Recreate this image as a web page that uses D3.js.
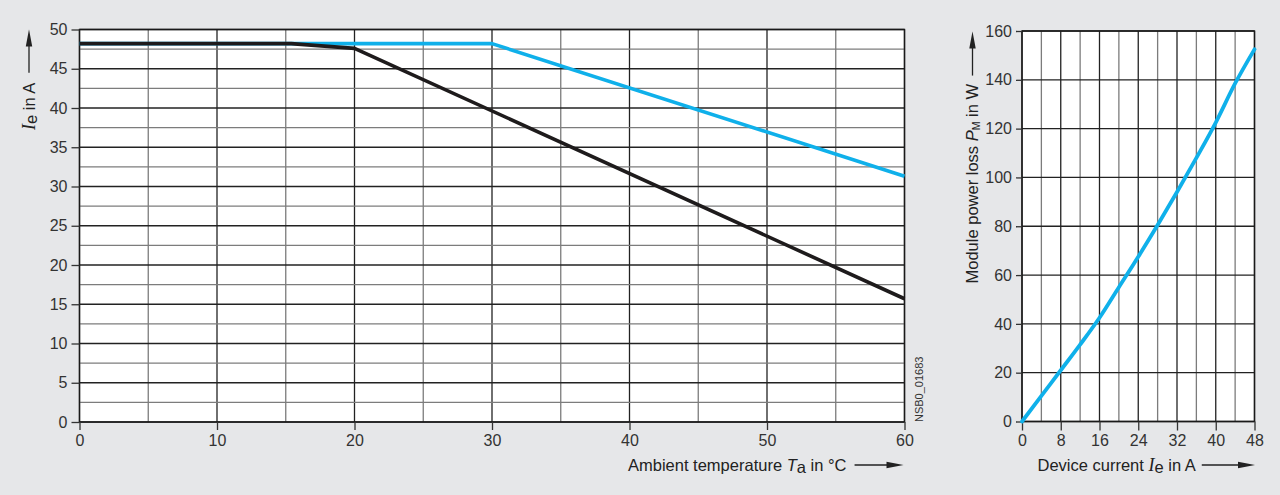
<!DOCTYPE html>
<html><head><meta charset="utf-8">
<script src="https://cdn.jsdelivr.net/npm/d3@7"></script>
<style>
body{margin:0;background:#e6e7e9;}
text{font-family:"Liberation Sans",Arial,sans-serif;}
</style>
</head><body><svg id="c" width="1280" height="495"></svg>
<script>
// ---- data ----
const blackTemp = [0, 15.4, 20, 60];
const blackIe   = [48.2, 48.2, 47.6, 15.7];
const blueTemp  = [0, 30, 60];
const blueIe    = [48.2, 48.2, 31.3];
const deviceCurrent = [0, 4, 8, 12, 16, 20, 24, 28, 32, 36, 40, 44, 48];
const powerLoss     = [0, 10.5, 21, 31.5, 42.5, 55, 67.5, 80.5, 94, 108, 122.5, 138.5, 152.5];
const leftXTicks  = [0, 10, 20, 30, 40, 50, 60];
const leftYTicks  = [0, 5, 10, 15, 20, 25, 30, 35, 40, 45, 50];
const rightXTicks = [0, 8, 16, 24, 32, 40, 48];
const rightYTicks = [0, 20, 40, 60, 80, 100, 120, 140, 160];
const leftXGrid  = d3.range(0, 60.01, 5);
const leftYGrid  = d3.range(0, 50.01, 2.5);
const rightXGrid = d3.range(0, 48.01, 4);
const rightYGrid = d3.range(0, 160.01, 20);
const figureCode = "NSB0_01683";

const svg = d3.select("#c");
svg.append("rect").attr("width",1280).attr("height",495).attr("fill","#e6e7e9");

const xL = d3.scaleLinear().domain([0,60]).range([79.5,904.5]);
const yL = d3.scaleLinear().domain([0,50]).range([422,29.5]);
const xR = d3.scaleLinear().domain([0,48]).range([1022,1254.5]);
const yR = d3.scaleLinear().domain([0,160]).range([421.5,31]);

const DARK = "#222", GRAY = "#7c7c7c";

function panel(x, y, xGrid, yGrid, xTicks, yTicks) {
  const g = svg.append("g");
  g.append("rect").attr("x",x.range()[0]).attr("y",y.range()[1])
    .attr("width",x.range()[1]-x.range()[0]).attr("height",y.range()[0]-y.range()[1])
    .attr("fill","#fff");
  g.selectAll("line.v").data(xGrid).enter().append("line")
    .attr("x1",d=>x(d)).attr("x2",d=>x(d)).attr("y1",y.range()[0]).attr("y2",y.range()[1])
    .attr("stroke",d=>xTicks.includes(d)?DARK:GRAY).attr("stroke-width",1.3);
  g.selectAll("line.h").data(yGrid).enter().append("line")
    .attr("y1",d=>y(d)).attr("y2",d=>y(d)).attr("x1",x.range()[0]).attr("x2",x.range()[1])
    .attr("stroke",d=>yTicks.includes(d)?DARK:GRAY).attr("stroke-width",1.3);
  g.append("rect").attr("x",x.range()[0]).attr("y",y.range()[1])
    .attr("width",x.range()[1]-x.range()[0]).attr("height",y.range()[0]-y.range()[1])
    .attr("fill","none").attr("stroke","#1a1a1a").attr("stroke-width",1.4);
  return g;
}

panel(xL, yL, leftXGrid, leftYGrid, leftXTicks, leftYTicks);
panel(xR, yR, rightXGrid, rightYGrid, rightXTicks, rightYTicks);

function styleAxis(g){
  g.select(".domain").remove();
  g.selectAll(".tick line").attr("stroke","#333").attr("stroke-width",1.3);
  g.selectAll(".tick text").attr("fill","#333").style("font-size","16px")
    .style("font-family","'Liberation Sans',Arial,sans-serif");
}
svg.append("g").attr("transform",`translate(${xL.range()[0]},0)`)
  .call(d3.axisLeft(yL).tickValues(leftYTicks).tickSize(8).tickPadding(4)).call(styleAxis);
svg.append("g").attr("transform",`translate(0,${yL.range()[0]})`)
  .call(d3.axisBottom(xL).tickValues(leftXTicks).tickSize(8).tickPadding(5)).call(styleAxis);
svg.append("g").attr("transform",`translate(${xR.range()[0]},0)`)
  .call(d3.axisLeft(yR).tickValues(rightYTicks).tickSize(6).tickPadding(4)).call(styleAxis);
svg.append("g").attr("transform",`translate(0,${yR.range()[0]})`)
  .call(d3.axisBottom(xR).tickValues(rightXTicks).tickSize(9).tickPadding(4)).call(styleAxis);

// curves
const lineL = d3.line().x(d=>xL(d[0])).y(d=>yL(d[1]));
svg.append("path").attr("d", lineL(d3.zip(blueTemp, blueIe)))
  .attr("fill","none").attr("stroke","#0fb0ea").attr("stroke-width",3.6).attr("stroke-linejoin","round");
svg.append("path").attr("d", lineL(d3.zip(blackTemp, blackIe)))
  .attr("fill","none").attr("stroke","#1e1b1c").attr("stroke-width",3.6).attr("stroke-linejoin","round");
const lineR = d3.line().x(d=>xR(d[0])).y(d=>yR(d[1])).curve(d3.curveMonotoneX);
svg.append("path").attr("d", lineR(d3.zip(deviceCurrent, powerLoss)))
  .attr("fill","none").attr("stroke","#0fb0ea").attr("stroke-width",3.8).attr("stroke-linecap","round");

// arrows
function arrowH(x1, x2, y) {
  svg.append("line").attr("x1",x1).attr("x2",x2-14).attr("y1",y).attr("y2",y)
    .attr("stroke","#222").attr("stroke-width",1.3);
  svg.append("path").attr("d",`M${x2},${y} L${x2-17},${y-3.2} L${x2-17},${y+3.2} Z`).attr("fill","#222");
}
function arrowV(x, y1, y2) { // y2 = tip (top)
  svg.append("line").attr("x1",x).attr("x2",x).attr("y1",y1).attr("y2",y2+14)
    .attr("stroke","#222").attr("stroke-width",1.3);
  svg.append("path").attr("d",`M${x},${y2} L${x-3.2},${y2+17} L${x+3.2},${y2+17} Z`).attr("fill","#222");
}
const FS = "16.5px";

// bottom-left title
const t1 = svg.append("text").attr("x",628).attr("y",471).attr("fill","#222").style("font-size",FS);
t1.append("tspan").text("Ambient temperature ");
t1.append("tspan").text("T").style("font-style","italic");
t1.append("tspan").text("a").attr("dy",2);
t1.append("tspan").text(" in °C").attr("dy",-2);
arrowH(t1.node().getBBox().x + t1.node().getBBox().width + 8, 903.5, 465);

// bottom-right title
const t2 = svg.append("text").attr("x",1037.5).attr("y",471).attr("fill","#222").style("font-size",FS);
t2.append("tspan").text("Device current  ");
t2.append("tspan").text("I").style("font-family","'Liberation Serif',serif").style("font-style","italic").style("font-size","18px");
t2.append("tspan").text("e").attr("dy",2);
t2.append("tspan").text(" in A").attr("dy",-2);
arrowH(t2.node().getBBox().x + t2.node().getBBox().width + 6, 1255, 465);

// left y title (rotated)
const t3 = svg.append("text").attr("transform","translate(34.5,130) rotate(-90)").attr("fill","#222").style("font-size",FS);
t3.append("tspan").text("I").style("font-family","'Liberation Serif',serif").style("font-style","italic").style("font-size","18px");
t3.append("tspan").text("e").attr("dy",2);
t3.append("tspan").text(" in A").attr("dy",-2);
const w3 = t3.node().getBBox().width;
arrowV(29, 130 - w3 - 9, 29.5);

// right y title (rotated)
const t4 = svg.append("text").attr("transform","translate(977.5,283.5) rotate(-90)").attr("fill","#222").style("font-size",FS);
t4.append("tspan").text("Module power loss  ");
t4.append("tspan").text("P").style("font-style","italic");
t4.append("tspan").text("M").attr("dy",2.5).style("font-size","10.5px");
t4.append("tspan").text(" in W").attr("dy",-2.5);
const w4 = t4.node().getBBox().width;
arrowV(972.5, 283.5 - w4 - 8, 31.5);

// figure code
svg.append("text").attr("transform","translate(923,422) rotate(-90)").attr("fill","#333")
  .style("font-size","11px").text(figureCode);
</script>
</body></html>
